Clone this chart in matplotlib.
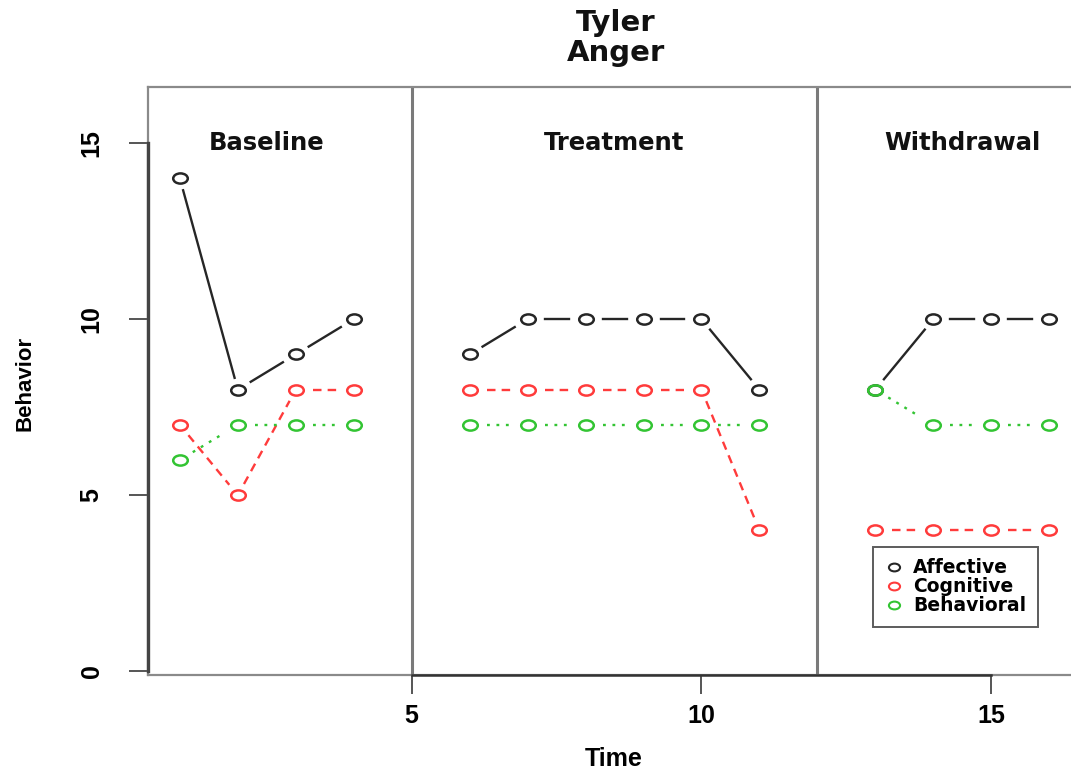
import numpy as np
import matplotlib
matplotlib.use("Agg")
import matplotlib.pyplot as plt
from matplotlib.path import Path
from matplotlib.lines import Line2D

# sessions per phase (no session 5 or 12: those are the phase changes)
baseline_time = [1, 2, 3, 4]
treatment_time = [6, 7, 8, 9, 10, 11]
withdrawal_time = [13, 14, 15, 16]

affective_baseline = [14, 8, 9, 10]
affective_treatment = [9, 10, 10, 10, 10, 8]
affective_withdrawal = [8, 10, 10, 10]

cognitive_baseline = [7, 5, 8, 8]
cognitive_treatment = [8, 8, 8, 8, 8, 4]
cognitive_withdrawal = [4, 4, 4, 4]

behavioral_baseline = [6, 7, 7, 7]
behavioral_treatment = [7, 7, 7, 7, 7, 7]
behavioral_withdrawal = [8, 7, 7, 7]

phase_names = ["Baseline", "Treatment", "Withdrawal"]
phase_label_x = [2.5, 8.5, 14.5]
phase_changes = [5, 12]
series_names = ["Affective", "Cognitive", "Behavioral"]

W, H = 1071, 772
BLACK, RED, GREEN = "#262626", "#ff3b3b", "#33c433"
LAB = "Liberation Sans"

# hollow ellipse marker (wider than tall)
_c = Path.unit_circle()
ELLIPSE = Path(_c.vertices * [1.0, 0.7], _c.codes)

fig = plt.figure(figsize=(W / 100, H / 100), dpi=100)
ax = fig.add_axes([148 / W, 97 / H, (1084 - 148) / W, (675 - 87) / H])
ax.set_xlim(0.45, 16.6)
ax.set_ylim(-0.11, 16.6)

GX, GY = 17.0, 12.0  # gap (px) left around each point, like R's type="b"


def gapped(x, y, **kw):
    pts = ax.transData.transform(np.column_stack([x, y]))
    inv = ax.transData.inverted()
    for p0, p1 in zip(pts[:-1], pts[1:]):
        d = p1 - p0
        L = np.hypot(*d)
        u = d / L
        g = 1.0 / np.hypot(u[0] / GX, u[1] / GY)
        if L <= 2 * g:
            continue
        seg = inv.transform([p0 + u * g, p1 - u * g])
        ax.plot(seg[:, 0], seg[:, 1], **kw)


series = [
    (BLACK, "-", [affective_baseline, affective_treatment, affective_withdrawal]),
    (RED, (0, (3.6, 2.6)), [cognitive_baseline, cognitive_treatment, cognitive_withdrawal]),
    (GREEN, (0, (1.2, 2.8)), [behavioral_baseline, behavioral_treatment, behavioral_withdrawal]),
]
times = [baseline_time, treatment_time, withdrawal_time]

for color, ls, phases in series:
    for t, v in zip(times, phases):
        gapped(t, v, color=color, ls=ls, lw=1.7)
        ax.plot(t, v, ls="none", marker=ELLIPSE, ms=10.5, mfc="none", mec=color, mew=1.8)

for xc in phase_changes:
    ax.axvline(xc, color="#7a7a7a", lw=2.2, zorder=1)

for name, xp in zip(phase_names, phase_label_x):
    ax.text(xp, 15, name, ha="center", va="center", fontsize=17.5, fontweight="bold", color="#111")

# box + axis lines
for s in ax.spines.values():
    s.set_color("#8a8a8a")
    s.set_linewidth(1.6)
ax.spines["right"].set_visible(False)
ax.plot([0.45, 0.45], [0, 15], color="#444", lw=2.4, clip_on=False, zorder=5)
ax.plot([5, 15], [-0.11, -0.11], color="#333", lw=1.8, clip_on=False, zorder=5)

ax.set_xticks([5, 10, 15])
ax.set_yticks([0, 5, 10, 15])
ax.tick_params(length=14, width=1.4, color="#555")
ax.tick_params(axis="x", pad=7)
ax.tick_params(axis="y", pad=18)
for lab in ax.get_xticklabels():
    lab.set_fontfamily(LAB)
    lab.set_fontweight("bold")
    lab.set_fontsize(18)
for lab in ax.get_yticklabels():
    lab.set_fontfamily(LAB)
    lab.set_fontweight("bold")
    lab.set_fontsize(18)
    lab.set_rotation(90)
    lab.set_va("center")

fig.text(25 / W, 1 - 383 / H, "Behavior", rotation=90, ha="center", va="center",
         fontsize=16, fontweight="bold", family=LAB)
fig.text(614 / W, 1 - 759 / H, "Time", ha="center", va="center",
         fontsize=18, fontweight="bold", family=LAB)
fig.text(616 / W, 1 - 38 / H, "Tyler\nAnger", ha="center", va="center",
         fontsize=21, fontweight="bold", linespacing=1.05, color="#111")

handles = [Line2D([0], [0], ls="none", marker=ELLIPSE, ms=8, mfc="none", mec=c, mew=1.5, label=n)
           for c, n in zip([BLACK, RED, GREEN], series_names)]
leg = ax.legend(handles=handles, loc="upper left", bbox_to_anchor=(873 / W, 1 - 547 / H),
                bbox_transform=fig.transFigure, borderaxespad=0, frameon=True, fancybox=False,
                prop={"weight": "bold", "size": 13.5}, handlelength=1.0, handletextpad=0.55,
                labelspacing=0.0, borderpad=0.6)
leg.get_frame().set_edgecolor("#333")
leg.get_frame().set_linewidth(1.4)

fig.savefig("out.png", dpi=100)
